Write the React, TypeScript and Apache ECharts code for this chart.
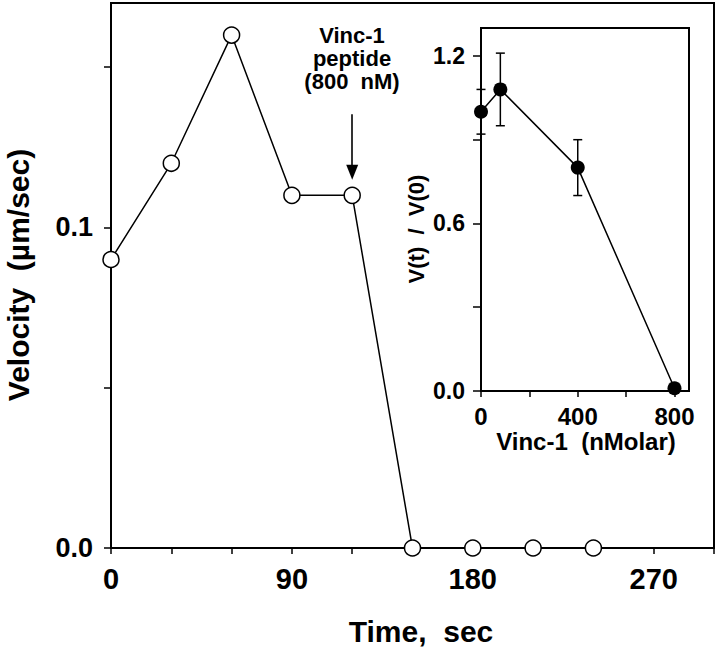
import React, { useEffect, useRef } from "react";
import * as echarts from "echarts";

// ---- Main panel data ----
const timeSec = [0, 30, 60, 90, 120, 150, 180, 210, 240];
const velocity = [0.09, 0.12, 0.16, 0.11, 0.11, 0, 0, 0, 0];
const mainXTickValues = [0, 30, 60, 90, 120, 150, 180, 210, 240, 270, 300];
const mainXLabelValues = [0, 90, 180, 270];
const mainYTickValues = [0, 0.05, 0.1, 0.15];
const mainYLabelValues = [0, 0.1];

// ---- Inset data ----
const vincConc = [0, 80, 400, 800];
const ratio = [1.0, 1.08, 0.8, 0.01];
const ratioErr = [0.08, 0.13, 0.1, 0];
const insetXTickValues = [0, 200, 400, 600, 800];
const insetXLabelValues = [0, 400, 800];
const insetYTickValues = [0, 0.3, 0.6, 0.9, 1.2];
const insetYLabelValues = [0, 0.6, 1.2];

// ---- Annotation (arrow at peptide addition) ----
const peptideTime = 120;
const arrowStartV = 0.1353;
const arrowEndV = 0.1172;
const annotationLines = ["Vinc-1", "peptide", "(800  nM)"];

const FONT = '"Liberation Sans", Arial, Helvetica, sans-serif';
const near = (arr: number[], v: number) => arr.some((t) => Math.abs(t - v) < 1e-9);

export default function App() {
  const ref = useRef<HTMLDivElement>(null);
  useEffect(() => {
    if (!ref.current) return;
    const chart = echarts.init(ref.current, undefined, { renderer: "svg" });
    const axisLine = { show: true, onZero: false, lineStyle: { color: "#000", width: 2 } };
    const tickStyle = { color: "#000", width: 1.5 };
    const option: any = {
      animation: false,
      backgroundColor: "#fff",
      grid: [
        { left: 111, top: 3, width: 603, height: 545, show: true, borderColor: "#000", borderWidth: 2, backgroundColor: "transparent" },
        { left: 481, top: 28, width: 208, height: 363, show: true, borderColor: "#000", borderWidth: 2, backgroundColor: "#fff" },
      ],
      xAxis: [
        {
          gridIndex: 0, type: "value", min: 0, max: 300, interval: 30,
          axisLine,
          axisTick: { show: true, length: 6, lineStyle: tickStyle, customValues: mainXTickValues },
          axisLabel: {
            customValues: mainXLabelValues,
            formatter: (v: number) => (near(mainXLabelValues, v) ? String(v) : ""),
            margin: 16, fontSize: 29, fontWeight: "bold", color: "#000", fontFamily: FONT,
          },
          splitLine: { show: false },
        },
        {
          gridIndex: 1, type: "value", min: 0, max: 860, interval: 200,
          axisLine,
          axisTick: { show: true, length: 6, lineStyle: tickStyle, customValues: insetXTickValues },
          axisLabel: {
            customValues: insetXLabelValues,
            formatter: (v: number) => (near(insetXLabelValues, v) ? String(v) : ""),
            margin: 13, fontSize: 24, fontWeight: "bold", color: "#000", fontFamily: FONT,
          },
          splitLine: { show: false },
        },
      ],
      yAxis: [
        {
          gridIndex: 0, type: "value", min: 0, max: 0.17, interval: 0.05,
          axisLine,
          axisTick: { show: true, length: 7, lineStyle: tickStyle, customValues: mainYTickValues },
          axisLabel: {
            customValues: mainYLabelValues,
            formatter: (v: number) => (near(mainYLabelValues, v) ? v.toFixed(1) : ""),
            margin: 18, fontSize: 27, fontWeight: "bold", color: "#000", fontFamily: FONT,
          },
          splitLine: { show: false },
        },
        {
          gridIndex: 1, type: "value", min: 0, max: 1.3, interval: 0.3,
          axisLine,
          axisTick: { show: true, length: 8, lineStyle: tickStyle, customValues: insetYTickValues },
          axisLabel: {
            customValues: insetYLabelValues,
            formatter: (v: number) => (near(insetYLabelValues, v) ? v.toFixed(1) : ""),
            margin: 16, fontSize: 23, fontWeight: "bold", color: "#000", fontFamily: FONT,
          },
          splitLine: { show: false },
        },
      ],
      series: [
        {
          type: "line",
          xAxisIndex: 0, yAxisIndex: 0,
          data: timeSec.map((t, i) => [t, velocity[i]]),
          symbol: "circle", symbolSize: 16,
          lineStyle: { color: "#000", width: 1.5 },
          itemStyle: { color: "#fff", borderColor: "#000", borderWidth: 1.5 },
          z: 3,
          markLine: {
            silent: true,
            symbol: ["none", "triangle"],
            symbolSize: [12, 15],
            lineStyle: { color: "#000", width: 1.6, type: "solid" },
            itemStyle: { color: "#000" },
            label: { show: false },
            data: [[{ coord: [peptideTime, arrowStartV] }, { coord: [peptideTime, arrowEndV] }]],
          },
        },
        {
          type: "custom",
          xAxisIndex: 1, yAxisIndex: 1,
          data: vincConc.map((c, i) => [c, ratio[i], ratioErr[i]]),
          renderItem: (params: any, api: any) => {
            const x = api.value(0), y = api.value(1), e = api.value(2);
            if (!e) return null;
            const hi = api.coord([x, y + e]);
            const lo = api.coord([x, y - e]);
            const w = 4.5;
            const st = { stroke: "#000", lineWidth: 1.5 };
            return {
              type: "group",
              children: [
                { type: "line", shape: { x1: hi[0], y1: hi[1], x2: lo[0], y2: lo[1] }, style: st },
                { type: "line", shape: { x1: hi[0] - w, y1: hi[1], x2: hi[0] + w, y2: hi[1] }, style: st },
                { type: "line", shape: { x1: lo[0] - w, y1: lo[1], x2: lo[0] + w, y2: lo[1] }, style: st },
              ],
            };
          },
          z: 4,
        },
        {
          type: "line",
          xAxisIndex: 1, yAxisIndex: 1,
          data: vincConc.map((c, i) => [c, ratio[i]]),
          symbol: "circle", symbolSize: 14,
          lineStyle: { color: "#000", width: 1.5 },
          itemStyle: { color: "#000" },
          z: 5,
        },
      ],
      graphic: [
        {
          type: "text", x: 18, y: 275, rotation: Math.PI / 2,
          style: { text: "Velocity  (µm/sec)", fontSize: 30, fontWeight: "bold", fontFamily: FONT, fill: "#000", align: "center", verticalAlign: "middle" },
        },
        {
          type: "text", x: 421, y: 631,
          style: { text: "Time,  sec", fontSize: 30, fontWeight: "bold", fontFamily: FONT, fill: "#000", align: "center", verticalAlign: "middle" },
        },
        {
          type: "text", x: 416, y: 229, rotation: Math.PI / 2,
          style: { text: "V(t)  /  V(0)", fontSize: 22, fontWeight: "bold", fontFamily: FONT, fill: "#000", align: "center", verticalAlign: "middle" },
        },
        {
          type: "text", x: 586, y: 441,
          style: { text: "Vinc-1  (nMolar)", fontSize: 24, fontWeight: "bold", fontFamily: FONT, fill: "#000", align: "center", verticalAlign: "middle" },
        },
        ...annotationLines.map((t, i) => ({
          type: "text", x: 352, y: 35 + i * 23,
          style: { text: t, fontSize: 22, fontWeight: "bold", fontFamily: FONT, fill: "#000", align: "center", verticalAlign: "middle" },
        })),
      ],
    };
    chart.setOption(option);
    return () => chart.dispose();
  }, []);
  return <div ref={ref} style={{ position: "fixed", left: 0, top: 0, width: 720, height: 655, background: "#fff" }} />;
}
